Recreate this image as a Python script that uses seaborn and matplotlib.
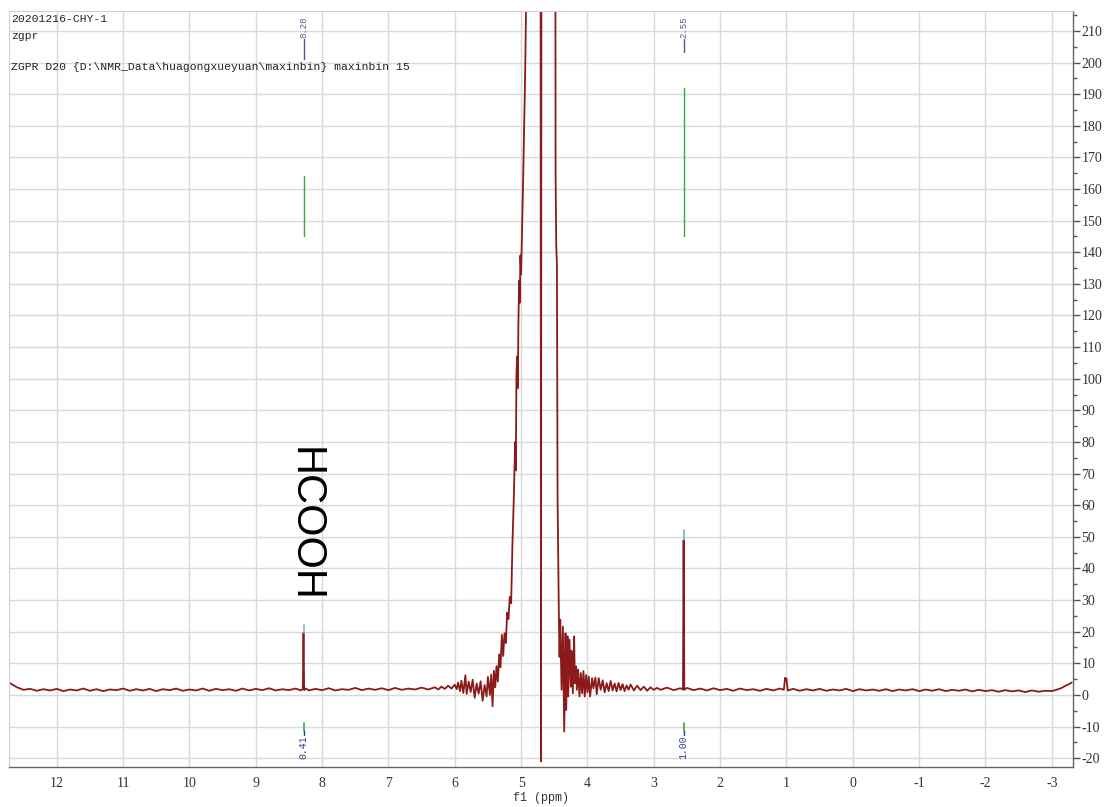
import numpy as np
import pandas as pd
import matplotlib
matplotlib.use('Agg')
import matplotlib.pyplot as plt
import seaborn as sns
from matplotlib.ticker import MultipleLocator

# --- spectrum values (ppm, intensity) ---
left_ppm = [12.72, 12.68, 12.64, 12.60, 12.55, 12.50, 12.40, 12.30, 12.20, 12.10,
            12.00, 11.90, 11.80, 11.70, 11.60, 11.50, 11.40, 11.30, 11.20, 11.10,
            11.00, 10.90, 10.80, 10.70, 10.60, 10.50, 10.40, 10.30, 10.20, 10.10,
            10.00, 9.90, 9.80, 9.70, 9.60, 9.50, 9.40, 9.30, 9.20, 9.10,
            9.00, 8.90, 8.80, 8.70, 8.60, 8.50, 8.40, 8.32, 8.29, 8.28,
            8.27, 8.24, 8.20, 8.10, 8.00, 7.90, 7.80, 7.70, 7.60, 7.50,
            7.40, 7.30, 7.20, 7.10, 7.00, 6.90, 6.80, 6.70, 6.60, 6.50,
            6.40]
left_int = [3.9, 3.4, 2.9, 2.4, 2.0, 1.6, 1.9, 1.3, 1.8, 1.4,
            1.9, 1.2, 1.7, 1.4, 2.0, 1.3, 1.8, 1.2, 1.7, 1.5,
            2.0, 1.3, 1.8, 1.4, 1.9, 1.2, 1.8, 1.5, 2.0, 1.3,
            1.7, 1.4, 2.0, 1.3, 1.9, 1.5, 1.8, 1.3, 2.0, 1.4,
            1.9, 1.5, 2.1, 1.4, 1.8, 1.5, 2.0, 1.4, 1.9, 19.6,
            1.5, 2.0, 1.4, 1.9, 1.5, 2.1, 1.4, 1.8, 1.6, 2.2,
            1.5, 2.0, 1.6, 2.1, 1.5, 2.2, 1.6, 2.0, 1.7, 2.3,
            1.7]

water_ppm = [6.30, 6.25, 6.20, 6.15, 6.10, 6.05, 6.00, 5.97, 5.95, 5.92,
             5.90, 5.87, 5.84, 5.82, 5.79, 5.76, 5.73, 5.70, 5.67, 5.64,
             5.61, 5.58, 5.55, 5.52, 5.50, 5.47, 5.45, 5.43, 5.41, 5.39,
             5.37, 5.35, 5.33, 5.31, 5.29, 5.27, 5.25, 5.23, 5.21, 5.19,
             5.17, 5.15, 5.13, 5.11, 5.09, 5.08, 5.07, 5.06, 5.05, 5.04,
             5.03, 5.02, 5.01, 5.00, 4.97, 4.94, 4.91, 4.89, 4.71, 4.70,
             4.69, 4.49, 4.48, 4.47, 4.46, 4.45, 4.43, 4.42, 4.41, 4.39,
             4.37, 4.35, 4.33, 4.32, 4.30, 4.29, 4.27, 4.25, 4.24, 4.22,
             4.20, 4.19, 4.17, 4.16, 4.14, 4.12, 4.10, 4.08, 4.06, 4.04,
             4.02, 4.00, 3.98, 3.96, 3.93, 3.91, 3.88, 3.86, 3.83, 3.80,
             3.77, 3.74, 3.71, 3.68, 3.65, 3.62, 3.59, 3.56, 3.53, 3.50,
             3.47, 3.44, 3.41, 3.38, 3.35, 3.30, 3.25, 3.20, 3.15, 3.10,
             3.05, 3.00, 2.95]
water_int = [2.4, 1.7, 2.6, 1.9, 2.9, 2.0, 3.2, 1.8, 3.9, 1.2,
             4.5, 0.6, 6.2, 0.3, 4.2, 0.9, 4.8, -0.9, 3.6, 0.4,
             4.3, -1.9, 3.1, -0.5, 5.7, 0.0, 6.4, -3.6, 7.6, 2.4,
             9.1, 4.2, 12.8, 8.7, 19.0, 12.3, 19.5, 16.4, 26.0, 24.0,
             31.0, 29.0, 48.0, 62.0, 80.0, 71.0, 101.0, 107.0, 97.0, 118.0,
             131.0, 124.0, 139.0, 133.0, 162.0, 195.0, 240.0, 400.0, 400.0, -21.0,
             400.0, 400.0, 165.0, 142.0, 136.0, 62.0, 24.0, 12.0, 23.8, 1.6,
             21.6, -11.6, 19.5, -4.8, 18.5, -0.5, 17.4, 2.6, 14.0, 0.5,
             18.5, 3.7, 9.0, 1.6, 8.0, -0.5, 6.9, 0.5, 7.5, -0.5,
             6.3, 0.8, 5.8, -0.5, 5.3, 2.1, 5.5, 0.2, 5.3, 1.6,
             4.6, 0.8, 3.7, 1.2, 4.4, 1.4, 3.6, 1.1, 3.8, 1.5,
             3.4, 1.2, 3.0, 1.6, 3.3, 1.4, 2.9, 1.5, 2.6, 1.3,
             2.4, 1.6, 2.2]

right_ppm = [2.90, 2.80, 2.70, 2.60, 2.56, 2.55, 2.54, 2.50, 2.40, 2.30,
             2.20, 2.10, 2.00, 1.90, 1.80, 1.70, 1.60, 1.50, 1.40, 1.30,
             1.20, 1.10, 1.04, 1.02, 1.01, 1.00, 0.98, 0.90, 0.80, 0.70,
             0.60, 0.50, 0.40, 0.30, 0.20, 0.10, 0.00, -0.10, -0.20, -0.30,
             -0.40, -0.50, -0.60, -0.70, -0.80, -0.90, -1.00, -1.10, -1.20, -1.30,
             -1.40, -1.50, -1.60, -1.70, -1.80, -1.90, -2.00, -2.10, -2.20, -2.30,
             -2.40, -2.50, -2.60, -2.70, -2.80, -2.90, -3.00, -3.10, -3.15, -3.20,
             -3.25, -3.30]
right_int = [1.6, 2.3, 1.5, 2.1, 1.7, 49.0, 1.6, 2.2, 1.5, 2.0,
             1.4, 2.1, 1.5, 1.9, 1.3, 2.0, 1.5, 1.8, 1.3, 1.9,
             1.4, 2.0, 1.6, 5.4, 4.6, 5.2, 1.4, 1.9, 1.3, 1.8,
             1.4, 1.9, 1.3, 1.7, 1.4, 1.9, 1.2, 1.8, 1.4, 1.7,
             1.3, 1.8, 1.2, 1.7, 1.4, 1.8, 1.2, 1.7, 1.3, 1.8,
             1.2, 1.6, 1.3, 1.7, 1.1, 1.6, 1.2, 1.5, 1.0, 1.5,
             1.1, 1.4, 0.9, 1.4, 1.0, 1.3, 1.2, 1.8, 2.2, 2.8,
             3.3, 3.9]

# peak picking / integration annotations
peak_ppm = [8.28, 2.55]
peak_labels = ['8.28', '2.55']
peak_tip_low = [19.6, 49.0]
peak_tip_high = [22.0, 52.0]
peak_line_bottom = [201.0, 203.4]
integ_low = [145.0, 145.0]
integ_high = [164.0, 192.0]
integ_labels = ['0.41', '1.00']

header_lines = ['20201216-CHY-1', 'zgpr',
                'ZGPR D20 {D:\\NMR_Data\\huagongxueyuan\\maxinbin} maxinbin 15']

spec = pd.concat([
    pd.DataFrame({'ppm': left_ppm, 'intensity': left_int}),
    pd.DataFrame({'ppm': water_ppm, 'intensity': water_int}),
    pd.DataFrame({'ppm': right_ppm, 'intensity': right_int}),
], ignore_index=True)

sns.set_style('white')
plt.rcParams['font.family'] = ['DejaVu Sans']
plt.rcParams['axes.unicode_minus'] = False

fig = plt.figure(figsize=(11.07, 8.07), dpi=100)
ax = fig.add_axes([0.0081, 0.0496, 0.9612, 0.9368])

ax.set_axisbelow(True)
ax.grid(True, which='major', color='#d9d9d9', lw=1.0)

sns.lineplot(data=spec, x='ppm', y='intensity', sort=False, estimator=None,
             color='#8b1a1a', lw=1.3, ax=ax)

# blue peak tips
for p, lo, hi in zip(peak_ppm, peak_tip_low, peak_tip_high):
    ax.plot([p, p], [lo, hi], color='#8fa3cc', lw=1.2)

# integral curves
for p, lo, hi in zip(peak_ppm, integ_low, integ_high):
    ax.plot([p, p], [lo, hi], color='#3aa83a', lw=1.0)

# peak labels on top
for p, lab, bot in zip(peak_ppm, peak_labels, peak_line_bottom):
    ax.plot([p, p], [bot, 207.5], color='#4a5a8a', lw=1.0)
    ax.text(p, 207.8, lab, rotation=90, ha='center', va='bottom',
            fontsize=6.5, family='Liberation Mono', color='#4a5a8a')

# integration labels at bottom
for p, lab in zip(peak_ppm, integ_labels):
    ax.plot([p, p], [-8.8, -11.3], color='#3aa83a', lw=1.2)
    ax.plot([p, p], [-11.3, -12.7], color='#2a3f8f', lw=1.0)
    ax.text(p, -13.0, lab, rotation=90, ha='center', va='top',
            fontsize=7, family='Liberation Mono', color='#2a3f8f')

ax.text(8.26, 53.8, 'HCOOH', rotation=-90, ha='center', va='center',
        fontsize=30, family='Liberation Sans', color='black')

for line, yy in zip(header_lines, [19.5, 36, 67]):
    fig.text(11 / 1107, 1 - yy / 807, line, ha='left', va='center',
             fontsize=8.2, family='Liberation Mono', color='#222222')

ax.set_xlim(12.72, -3.32)
ax.set_ylim(-22.8, 216.3)
ax.xaxis.set_major_locator(MultipleLocator(1))
ax.xaxis.set_minor_locator(MultipleLocator(0.5))
ax.yaxis.set_major_locator(MultipleLocator(10))
ax.yaxis.set_minor_locator(MultipleLocator(5))
ax.yaxis.tick_right()

ax.tick_params(axis='x', which='major', direction='out', length=5, width=1,
               color='#555555', labelsize=10, pad=2, labelcolor='#333333')
ax.tick_params(axis='x', which='minor', direction='out', length=3, width=1,
               color='#555555')
ax.tick_params(axis='y', which='major', direction='out', length=5, width=1,
               color='#555555', labelsize=10, pad=1, labelcolor='#333333',
               left=False, right=True)
ax.tick_params(axis='y', which='minor', direction='out', length=3, width=1,
               color='#555555', left=False, right=True)
for lab in ax.get_xticklabels() + ax.get_yticklabels():
    lab.set_family('Liberation Serif')

ax.set_xlabel('f1 (ppm)', fontsize=8.5, family='Liberation Mono',
              color='#333333', labelpad=2)
ax.set_ylabel('')

for side in ['right', 'bottom']:
    ax.spines[side].set_color('#666666')
    ax.spines[side].set_linewidth(1.0)
for side in ['left', 'top']:
    ax.spines[side].set_color('#d0d0d0')
    ax.spines[side].set_linewidth(0.8)

fig.savefig('out.png', dpi=100)
